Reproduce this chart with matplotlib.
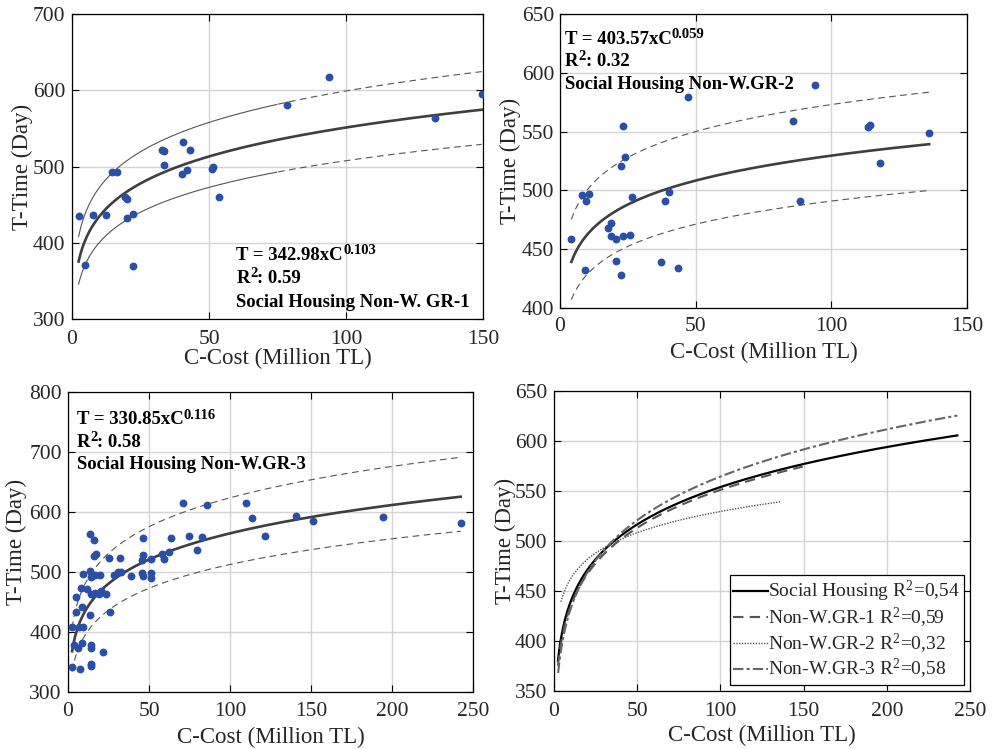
import numpy as np
import matplotlib
matplotlib.use("Agg")
import matplotlib.pyplot as plt

plt.rcParams['font.family'] = ['Liberation Serif', 'DejaVu Serif']
plt.rcParams['mathtext.fontset'] = 'custom'
plt.rcParams['mathtext.rm'] = 'Liberation Serif'
plt.rcParams['mathtext.it'] = 'Liberation Serif:italic'
plt.rcParams['mathtext.bf'] = 'Liberation Serif:bold'

# ---------------- data ----------------
gr1_cost = [2.4, 4.7, 7.7, 12.3, 14.6, 16.5, 19.5, 20.1, 20.1, 22.3, 22.4, 33.0, 33.7, 33.7,
            40.6, 40.3, 41.8, 43.1, 51.2, 51.6, 53.8, 78.5, 93.7, 132.5, 149.5]
gr1_time = [435.5, 371, 437, 437, 493, 493, 459.6, 457, 432, 437.6, 369.5, 521.6, 520, 501.5,
            532, 490, 495, 521, 496.7, 500, 459.6, 581, 618, 564, 595]

gr2_cost = [4.2, 8.1, 9.5, 9.2, 10.8, 17.7, 18.7, 18.7, 20.6, 20.6, 22.4, 22.4, 23.1, 23.3, 24.0,
            25.7, 26.4, 37.3, 38.8, 40.3, 43.4, 47.3, 85.8, 88.3, 94.1, 113.4, 114.1, 117.8, 136.1]
gr2_time = [459, 496, 491, 432, 497, 468, 472, 461, 459, 440, 521, 428, 461, 555, 528,
            462, 494, 439, 491, 499, 434, 579, 559, 491, 590, 554, 556, 523, 549]

gr3_cost = [13.6, 15.8, 15.8, 17.5, 25.1, 31.9, 46.5, 63.6, 74.9, 46.5, 45.7, 51.4, 58.0, 59.3, 62.1,
            9.3, 13.6, 14.4, 16.9, 19.5, 28.6, 30.7, 32.7, 39.1, 45.7, 46.1, 51.0, 51.0,
            8.2, 11.7, 14.0, 16.5, 19.3, 20.6, 23.7, 5.1, 8.6, 4.9, 13.8, 25.9,
            2.7, 9.3, 7.0, 3.9, 6.0, 8.6, 14.0, 14.2, 21.4, 2.5, 7.6, 14.0, 14.0,
            71.2, 79.6, 82.7, 85.8, 110.0, 113.4, 121.4, 140.9, 151.2, 194.4, 242.4]
gr3_time = [563.3, 553.3, 526.7, 529.4, 523.9, 523.9, 556, 556, 560.6, 528.3, 520, 521.7, 529.4, 521, 533.9,
            496.7, 502.2, 492.2, 494.4, 494.4, 495.6, 499.4, 499.4, 493.9, 498.9, 493.3, 497.8, 489.4,
            472.8, 472.2, 462.8, 465.6, 463.3, 468.9, 463.3, 458.3, 442.2, 432.8, 428.3, 433.9,
            408.3, 408.3, 407.8, 377.8, 373.9, 381.1, 377.8, 372.8, 366.7, 342.2, 338.9, 346.7, 343.9,
            614.4, 537.2, 558.9, 611, 615.6, 590.6, 560.6, 592.8, 585.6, 591.7, 581.7]

# fitted power models T = a * C^b
fit_a = {'sh': 348.4, 'gr1': 342.98, 'gr2': 403.57, 'gr3': 330.85}
fit_b = {'sh': 0.1007, 'gr1': 0.103, 'gr2': 0.059, 'gr3': 0.116}
r2 = {'sh': '0,54', 'gr1': '0,59', 'gr2': '0,32', 'gr3': '0,58'}
# prediction-band multipliers (upper, lower)
band = {'gr1': (1.087, 0.921), 'gr2': (1.082, 0.927), 'gr3': (1.105, 0.908)}

titles = {'gr1': 'Social Housing Non-W. GR-1',
          'gr2': 'Social Housing Non-W.GR-2',
          'gr3': 'Social Housing Non-W.GR-3'}
eq_text = {'gr1': ('342.98', '0.103', '0.59'),
           'gr2': ('403.57', '0.059', '0.32'),
           'gr3': ('330.85', '0.116', '0.58')}

# --------------- styling helpers ---------------
TXT = '#262626'
DOT = '#2b4fa6'

def style(ax, xlim, xticks, ylim, yticks, xpad, ypad, xlabpad, ylabpad):
    ax.set_xlim(*xlim)
    ax.set_ylim(*ylim)
    ax.set_xticks(xticks)
    ax.set_yticks(yticks)
    ax.grid(True, color='#d4d4d4', linewidth=1.0)
    ax.set_axisbelow(True)
    ax.tick_params(direction='in', top=True, right=True, length=5, width=0.8,
                   labelsize=15.5, colors='black', labelcolor=TXT)
    ax.tick_params(axis='x', pad=xpad)
    ax.tick_params(axis='y', pad=ypad)
    for s in ax.spines.values():
        s.set_linewidth(0.9)
        s.set_color('black')
    ax.set_xlabel('C-Cost (Million TL)', fontsize=16.5, color=TXT, labelpad=xlabpad)
    ax.set_ylabel('T-Time (Day)', fontsize=16.5, color=TXT, labelpad=ylabpad)


def power(key, x):
    return fit_a[key] * np.power(x, fit_b[key])


def scatter_panel(ax, key, cost, time, split=None):
    ax.scatter(cost, time, s=32, color=DOT, zorder=3, linewidths=0)
    x = np.linspace(min(cost), max(cost), 300)
    y = power(key, x)
    ax.plot(x, y, color='#3f3f3f', linewidth=1.9, zorder=2)
    up, lo = band[key]
    if split is None:
        ax.plot(x, y * up, color='#555555', linewidth=0.8, dashes=(6, 4))
        ax.plot(x, y * lo, color='#555555', linewidth=0.8, dashes=(6, 4))
    else:
        m1 = x <= split
        m2 = x >= split
        for f in (up, lo):
            ax.plot(x[m1], y[m1] * f, color='#555555', linewidth=0.8)
            ax.plot(x[m2], y[m2] * f, color='#555555', linewidth=0.8, dashes=(6, 4))


def with_sup(ax, x0, y0, base, sup, tail=''):
    kw = dict(fontsize=13.5, fontweight='bold', color='black')
    t1 = ax.text(x0, y0, base, transform=ax.transAxes, va='baseline', ha='left', **kw)
    t2 = ax.annotate(sup, xy=(1.0, 0.58), xycoords=t1, va='baseline', ha='left',
                     fontsize=10.5, fontweight='bold', color='black')
    if tail:
        ax.annotate(tail, xy=(1.0, 0.0), xycoords=(t2, t1), va='bottom', ha='left', **kw)


def annotate(ax, key, x0, y1, y2, y3):
    a, b, r = eq_text[key]
    with_sup(ax, x0, y1, 'T = ' + a + 'xC', b)
    with_sup(ax, x0, y2, 'R', '2', ': ' + r)
    ax.text(x0, y3, titles[key], transform=ax.transAxes, fontsize=13.5, fontweight='bold',
            color='black', va='baseline', ha='left')


fig = plt.figure(figsize=(9.96, 7.49), dpi=100)

ax1 = fig.add_axes([0.0723, 0.5741, 0.4127, 0.4072])
ax2 = fig.add_axes([0.5622, 0.5888, 0.4086, 0.3925])
ax3 = fig.add_axes([0.0683, 0.0761, 0.4066, 0.4005])
ax4 = fig.add_axes([0.5562, 0.0774, 0.4177, 0.4005])

# panel 1
scatter_panel(ax1, 'gr1', gr1_cost, gr1_time, split=75)
style(ax1, (0, 150), [0, 50, 100, 150], (300, 700), [300, 400, 500, 600, 700],
      xpad=8.0, ypad=5, xlabpad=-1, ylabpad=0)
annotate(ax1, 'gr1', 0.40, 0.193, 0.118, 0.039)

# panel 2
scatter_panel(ax2, 'gr2', gr2_cost, gr2_time)
style(ax2, (0, 150), [0, 50, 100, 150], (400, 650), [400, 450, 500, 550, 600, 650],
      xpad=6.5, ypad=4, xlabpad=4, ylabpad=1)
annotate(ax2, 'gr2', 0.012, 0.898, 0.823, 0.746)

# panel 3
scatter_panel(ax3, 'gr3', gr3_cost, gr3_time)
style(ax3, (0, 250), [0, 50, 100, 150, 200, 250], (300, 800), [300, 400, 500, 600, 700, 800],
      xpad=7.5, ypad=4.5, xlabpad=4, ylabpad=1.5)
annotate(ax3, 'gr3', 0.021, 0.892, 0.818, 0.742)

# panel 4
all_cost = gr1_cost + gr2_cost + gr3_cost
xs = np.linspace(min(all_cost), max(all_cost), 400)
x1 = np.linspace(min(gr1_cost), max(gr1_cost), 300)
x2 = np.linspace(min(gr2_cost), max(gr2_cost), 300)
x3 = np.linspace(min(gr3_cost), max(gr3_cost), 400)
ax4.plot(xs, power('sh', xs), color='black', linewidth=1.6,
         label='Social Housing R$^2$=' + r2['sh'])
ax4.plot(x1, power('gr1', x1), color='#555555', linewidth=1.5, dashes=(5, 3),
         label='Non-W.GR-1 R$^2$=' + r2['gr1'])
ax4.plot(x2, power('gr2', x2), color='#555555', linewidth=1.0, linestyle=(0, (1, 1)),
         label='Non-W.GR-2 R$^2$=' + r2['gr2'])
ax4.plot(x3, power('gr3', x3), color='#666666', linewidth=1.5, dashes=(5, 1.5, 1.5, 1.5),
         label='Non-W.GR-3 R$^2$=' + r2['gr3'])
style(ax4, (0, 250), [0, 50, 100, 150, 200, 250], (350, 650), [350, 400, 450, 500, 550, 600, 650],
      xpad=8.0, ypad=5, xlabpad=3, ylabpad=-1)
leg = ax4.legend(loc='lower right', bbox_to_anchor=(0.986, 0.02), fontsize=14,
                 frameon=True, fancybox=False, edgecolor='black', framealpha=1,
                 handlelength=1.8, handletextpad=0.0, labelspacing=0.08,
                 borderpad=0.2, borderaxespad=0)
leg.get_frame().set_linewidth(0.9)
for t in leg.get_texts():
    t.set_color(TXT)

fig.savefig('out.png', dpi=100)
